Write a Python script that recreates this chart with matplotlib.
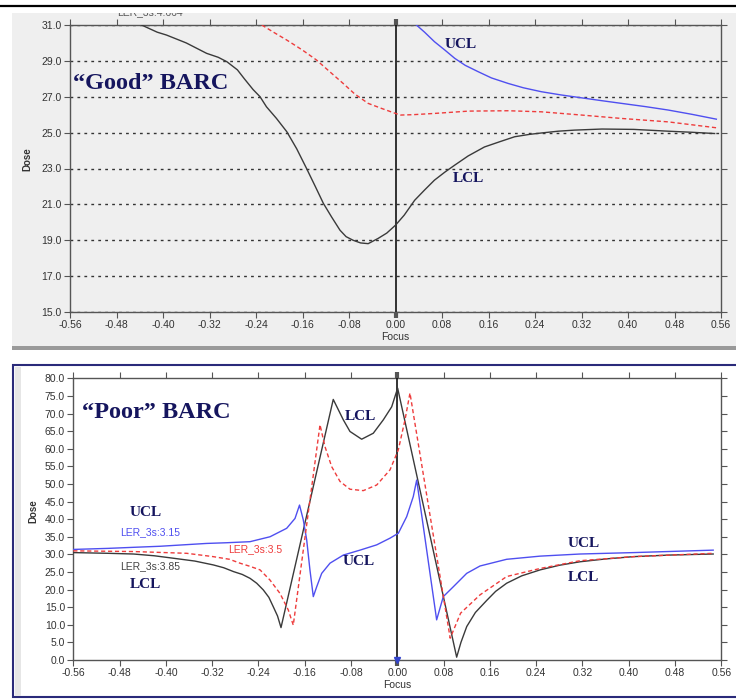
import matplotlib
matplotlib.use("Agg")
import matplotlib.pyplot as plt
from matplotlib.patches import Rectangle
from matplotlib.lines import Line2D

# ---------------- data: "Good" BARC ----------------
good_lcl_x = [-0.437, -0.41, -0.394, -0.36, -0.325, -0.305, -0.29, -0.272, -0.26, -0.245, -0.233,
              -0.222, -0.205, -0.187, -0.17, -0.153, -0.138, -0.124, -0.11, -0.0955, -0.085, -0.073,
              -0.06, -0.047, -0.03, -0.015, 0.0, 0.015, 0.033, 0.05, 0.067, 0.085, 0.102, 0.125,
              0.153, 0.18, 0.205, 0.23, 0.251, 0.28, 0.308, 0.355, 0.41, 0.469, 0.51, 0.549]
good_lcl_y = [31.0, 30.6, 30.44, 30.0, 29.42, 29.2, 28.95, 28.5, 28.0, 27.4, 27.0,
              26.44, 25.8, 25.05, 24.1, 23.0, 22.0, 21.05, 20.3, 19.56, 19.2, 19.0,
              18.85, 18.81, 19.1, 19.4, 19.84, 20.4, 21.23, 21.8, 22.35, 22.8, 23.19, 23.7,
              24.2, 24.5, 24.77, 24.9, 24.98, 25.08, 25.14, 25.2, 25.18, 25.08, 25.02, 24.95]

good_ucl_x = [0.036, 0.05, 0.067, 0.085, 0.102, 0.12, 0.142, 0.165, 0.194, 0.22, 0.251,
              0.285, 0.32, 0.355, 0.389, 0.43, 0.469, 0.51, 0.552]
good_ucl_y = [31.0, 30.6, 30.07, 29.6, 29.14, 28.75, 28.4, 28.05, 27.74, 27.5, 27.28,
              27.1, 26.94, 26.78, 26.63, 26.45, 26.26, 26.02, 25.75]

good_mid_x = [-0.23, -0.21, -0.187, -0.16, -0.136, -0.115, -0.09, -0.07, -0.047, -0.024, 0.0,
              0.009, 0.03, 0.067, 0.126, 0.194, 0.251, 0.32, 0.389, 0.469, 0.552]
good_mid_y = [31.0, 30.6, 30.16, 29.6, 29.05, 28.45, 27.74, 27.15, 26.63, 26.35, 26.07,
              25.98, 26.0, 26.07, 26.2, 26.22, 26.16, 25.98, 25.79, 25.6, 25.27]

# ---------------- data: "Poor" BARC ----------------
poor_385_x = [-0.56, -0.50, -0.456, -0.42, -0.387, -0.35, -0.318, -0.30, -0.283, -0.268, -0.2546,
              -0.243, -0.2316, -0.222, -0.2143, -0.207, -0.201, -0.1107, -0.0933, -0.0818, -0.0616,
              -0.0415, -0.0242, -0.0097, 0.0006, 0.1026, 0.11, 0.12, 0.135, 0.155, 0.17, 0.189,
              0.215, 0.247, 0.28, 0.316, 0.36, 0.408, 0.47, 0.546]
poor_385_y = [30.5, 30.3, 30.1, 29.6, 28.9, 28.1, 27.0, 26.2, 25.1, 24.3, 23.2,
              21.8, 19.9, 17.8, 15.1, 12.5, 9.2, 74.0, 68.2, 64.9, 62.7,
              64.4, 68.2, 71.9, 77.2, 0.8, 5.0, 9.5, 13.5, 17.0, 19.5, 21.8,
              23.9, 25.6, 26.9, 27.9, 28.7, 29.35, 29.8, 30.1]

poor_350_x = [-0.56, -0.456, -0.364, -0.318, -0.29, -0.272, -0.2546, -0.2373, -0.22, -0.2027,
              -0.1884, -0.1798, -0.1336, -0.125, -0.1134, -0.099, -0.0818, -0.0588, -0.0356, -0.0126,
              0.0018, 0.0133, 0.0219, 0.0914, 0.1094, 0.143, 0.189, 0.247, 0.316, 0.408, 0.546]
poor_350_y = [31.0, 30.8, 30.3, 29.35, 28.6, 27.5, 26.6, 25.6, 22.7, 18.9,
              14.2, 9.9, 66.8, 60.6, 54.9, 50.7, 48.5, 48.1, 49.7, 54.0,
              59.7, 68.2, 75.8, 6.2, 13.3, 18.5, 23.7, 26.0, 28.2, 29.35, 30.3]

poor_315_x = [-0.56, -0.50, -0.456, -0.41, -0.37, -0.33, -0.295, -0.2546, -0.22, -0.1912, -0.1768,
              -0.169, -0.1625, -0.1566, -0.151, -0.1452, -0.1393, -0.1307, -0.1163, -0.0933, -0.0645,
              -0.0356, -0.0126, 0.0018, 0.0162, 0.0276, 0.0335, 0.068, 0.0795, 0.0968, 0.1199,
              0.143, 0.189, 0.247, 0.316, 0.408, 0.546]
poor_315_y = [31.4, 31.7, 32.0, 32.3, 32.7, 33.1, 33.3, 33.6, 35.0, 37.4, 40.2,
              44.0, 39.8, 34.1, 25.6, 18.0, 20.8, 24.6, 27.5, 29.8, 31.2,
              32.7, 34.6, 36.0, 40.7, 46.4, 51.1, 11.4, 18.0, 20.8, 24.6,
              26.7, 28.6, 29.5, 30.1, 30.5, 31.2]

x_ticks = [-0.56, -0.48, -0.40, -0.32, -0.24, -0.16, -0.08, 0.00, 0.08, 0.16, 0.24, 0.32, 0.40, 0.48, 0.56]
good_y_ticks = [15.0, 17.0, 19.0, 21.0, 23.0, 25.0, 27.0, 29.0, 31.0]
poor_y_ticks = [0.0, 5.0, 10.0, 15.0, 20.0, 25.0, 30.0, 35.0, 40.0, 45.0, 50.0, 55.0, 60.0, 65.0, 70.0, 75.0, 80.0]

# ---------------- styling ----------------
W, H = 736, 700
BLK = '#3a3a3a'
BLU = '#4f4ff0'
RED = '#ee3c3c'
NAVY = '#15155e'
GRAYBG = '#efefef'
SERIF = ['Liberation Serif', 'DejaVu Serif']
SANS = ['Liberation Sans', 'DejaVu Sans']


def fx(px):
    return px / W


def fy(py):
    return 1 - py / H


fig = plt.figure(figsize=(W / 100, H / 100), dpi=100)
fig.patch.set_facecolor('white')

# panel backgrounds
fig.patches.append(Rectangle((fx(12), fy(347)), fx(736) - fx(12), fy(13) - fy(347),
                             transform=fig.transFigure, facecolor=GRAYBG, edgecolor='none', zorder=-2))
fig.patches.append(Rectangle((fx(12), fy(350)), fx(736) - fx(12), fy(346) - fy(350),
                             transform=fig.transFigure, facecolor='#9a9a9a', edgecolor='none', zorder=-1))
fig.patches.append(Rectangle((fx(13), fy(697)), fx(745) - fx(13), fy(365) - fy(697),
                             transform=fig.transFigure, facecolor='white', edgecolor='#2a2a7a',
                             linewidth=1.5, zorder=-2))
fig.patches.append(Rectangle((fx(15), fy(696)), fx(21) - fx(15), fy(367) - fy(696),
                             transform=fig.transFigure, facecolor='#e6e6e6', edgecolor='none', zorder=-1))

# cut-off series name at very top
fig.text(fx(150), fy(12), 'LER_3s:4.664', fontsize=7.5, family=SANS, color='#555555',
         ha='center', va='center', zorder=4)
fig.patches.append(Rectangle((0, fy(13)), 1, 1 - fy(13), transform=fig.transFigure,
                             facecolor='white', edgecolor='none', zorder=5))
fig.lines.append(Line2D([0, 1], [fy(5.5), fy(5.5)], transform=fig.transFigure,
                        color='black', linewidth=1.6, zorder=6))


def style_axes(ax, yticks, facecolor):
    ax.set_facecolor(facecolor)
    ax.set_xlim(-0.56, 0.56)
    ax.set_xticks(x_ticks)
    ax.set_xticklabels([f'{t:.2f}' for t in x_ticks])
    ax.set_ylim(yticks[0], yticks[-1])
    ax.set_yticks(yticks)
    ax.set_yticklabels([f'{t:.1f}' for t in yticks])
    for s in ax.spines.values():
        s.set_color('#555555')
        s.set_linewidth(1.0)
    ax.tick_params(axis='both', direction='out', length=4, width=0.8, color='#555555',
                   labelsize=7.5, labelcolor='#333333', top=True, right=True,
                   labeltop=False, labelright=False, pad=2)
    for lab in ax.get_xticklabels() + ax.get_yticklabels():
        lab.set_family(SANS)
    ax.axvline(0.0, color='#111111', linewidth=1.2, zorder=3)
    t0 = ax.xaxis.get_major_ticks()[7]
    for ln in (t0.tick1line, t0.tick2line):
        ln.set_markeredgewidth(3)
        ln.set_color('#111111')
    ax.set_xlabel('Focus', fontsize=7.5, family=SANS, color='#333333', labelpad=1)


# ---------------- top panel ----------------
ax1 = fig.add_axes([fx(70), fy(312), fx(721) - fx(70), fy(25) - fy(312)])
style_axes(ax1, good_y_ticks, GRAYBG)
ax1.yaxis.grid(True, color='#333333', linestyle=(0, (2, 3)), linewidth=1.0)
ax1.set_axisbelow(True)
ax1.plot(good_lcl_x, good_lcl_y, color=BLK, linewidth=1.0, zorder=4)
ax1.plot(good_ucl_x, good_ucl_y, color=BLU, linewidth=1.0, zorder=4)
ax1.plot(good_mid_x, good_mid_y, color=RED, linewidth=1.0, linestyle=(0, (3, 2)), zorder=4)

ax1.text(-0.555, 27.75, '\u201cGood\u201d BARC', fontsize=17.5, fontweight='bold', family=SERIF,
         color=NAVY, ha='left', va='center', zorder=5)
ax1.text(0.085, 29.9, 'UCL', fontsize=11, fontweight='bold', family=SERIF, color=NAVY,
         ha='left', va='center', zorder=5)
ax1.text(0.099, 22.47, 'LCL', fontsize=11, fontweight='bold', family=SERIF, color=NAVY,
         ha='left', va='center', zorder=5)
fig.text(fx(27), fy(159), 'Dose', rotation=90, fontsize=7, fontweight='bold', family=SANS,
         color='#333333', ha='center', va='center')

# ---------------- bottom panel ----------------
ax2 = fig.add_axes([fx(73.3), fy(660), fx(721.3) - fx(73.3), fy(378.3) - fy(660)])
style_axes(ax2, poor_y_ticks, 'white')
ax2.plot(poor_385_x, poor_385_y, color=BLK, linewidth=1.0, zorder=4)
ax2.plot(poor_315_x, poor_315_y, color=BLU, linewidth=1.0, zorder=4)
ax2.plot(poor_350_x, poor_350_y, color=RED, linewidth=1.0, linestyle=(0, (3, 2)), zorder=4)
ax2.plot([0.0], [0.0], marker='v', markersize=5, color='#3344cc', clip_on=False, zorder=6)

ax2.text(-0.545, 70.4, '\u201cPoor\u201d BARC', fontsize=17.5, fontweight='bold', family=SERIF,
         color=NAVY, ha='left', va='center', zorder=5)
for (tx, ty, s) in [(-0.462, 42.0, 'UCL'), (-0.462, 21.3, 'LCL'), (-0.090, 69.1, 'LCL'),
                    (-0.094, 27.9, 'UCL'), (0.295, 33.2, 'UCL'), (0.295, 23.4, 'LCL')]:
    ax2.text(tx, ty, s, fontsize=11, fontweight='bold', family=SERIF, color=NAVY,
             ha='left', va='center', zorder=5)
ax2.text(-0.479, 36.4, 'LER_3s:3.15', fontsize=7.5, family=SANS, color=BLU, ha='left', va='center', zorder=5)
ax2.text(-0.293, 31.5, 'LER_3s:3.5', fontsize=7.5, family=SANS, color=RED, ha='left', va='center', zorder=5)
ax2.text(-0.479, 26.7, 'LER_3s:3.85', fontsize=7.5, family=SANS, color='#444444', ha='left', va='center', zorder=5)
fig.text(fx(33), fy(511), 'Dose', rotation=90, fontsize=7, fontweight='bold', family=SANS,
         color='#333333', ha='center', va='center')

fig.savefig('out.png', dpi=100, facecolor=fig.get_facecolor())
